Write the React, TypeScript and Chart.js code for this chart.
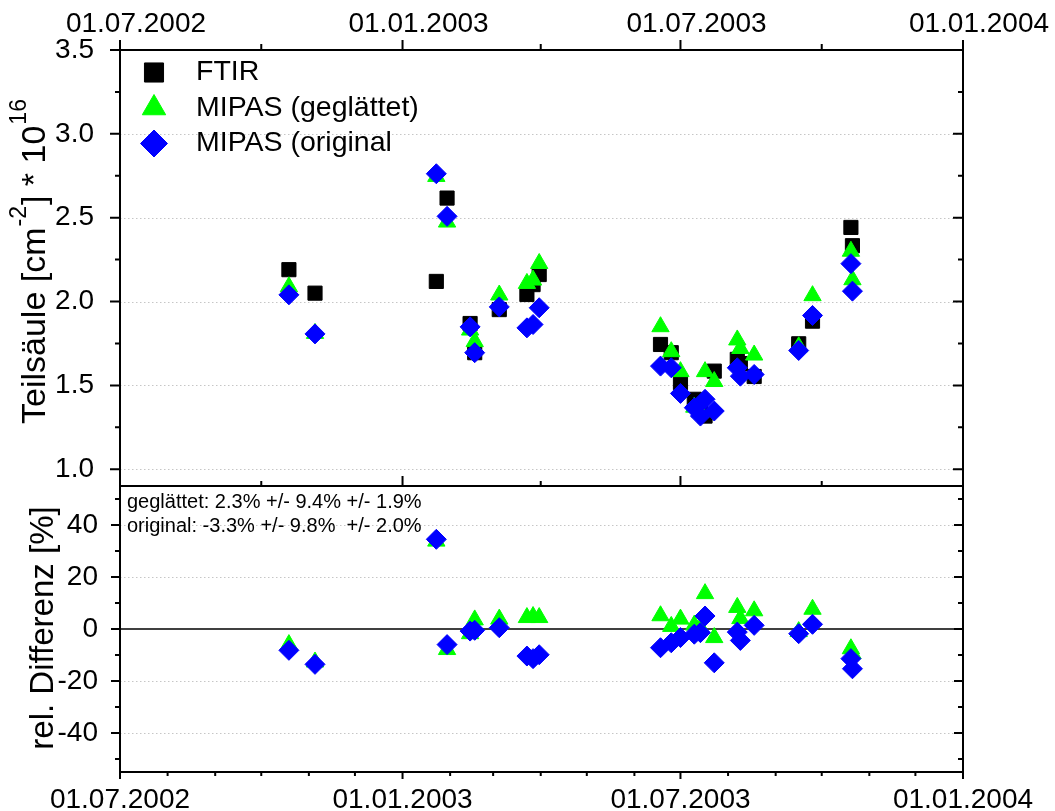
import React, { useEffect, useRef } from "react";
import { Chart, registerables } from "chart.js";

Chart.register(...registerables);

const FONT = "'Liberation Sans', Arial, Helvetica, sans-serif";

// ---- data ----
const measurementDates = [
  "2002-10-19", "2002-11-05", "2003-01-23", "2003-01-30", "2003-02-14", "2003-02-17",
  "2003-03-05", "2003-03-23", "2003-03-27", "2003-03-31", "2003-06-18", "2003-06-25",
  "2003-07-01", "2003-07-10", "2003-07-14", "2003-07-17", "2003-07-23", "2003-08-07",
  "2003-08-09", "2003-08-18", "2003-09-16", "2003-09-25", "2003-10-20", "2003-10-21",
];
const ftirColumn = [
  2.19, 2.05, 2.12, 2.617, 1.869, 1.695, 1.952, 2.042, 2.101, 2.161, 1.744, 1.695,
  1.516, 1.417, 1.35, 1.317, 1.585, 1.655, 1.63, 1.553, 1.748, 1.883, 2.442, 2.333,
];
const mipasSmoothedColumn = [
  2.088, 1.81, 2.746, 2.474, 1.83, 1.761, 2.039, 2.108, 2.128, 2.227, 1.85, 1.701,
  1.582, 1.37, 1.34, 1.582, 1.523, 1.771, 1.72, 1.681, 1.73, 2.035, 2.30, 2.13,
];
const mipasOriginalColumn = [
  2.04, 1.807, 2.762, 2.508, 1.849, 1.695, 1.968, 1.843, 1.863, 1.963, 1.615, 1.605,
  1.452, 1.367, 1.317, 1.417, 1.347, 1.605, 1.555, 1.565, 1.708, 1.917, 2.226, 2.062,
];
const diffSmoothedPct = [
  -6.0, -12.7, 33.8, -7.9, -1.8, 3.5, 3.8, 4.4, 4.8, 4.4, 5.1, 1.0,
  3.8, 1.5, 0.5, 13.6, -3.3, 8.3, 4.0, 7.0, -1.0, 7.6, -7.6, -9.5,
];
const diffOriginalPct = [
  -8.2, -13.6, 34.5, -6.0, -0.8, -0.5, 0.5, -10.4, -11.4, -9.9, -7.2, -5.3,
  -3.3, -2.0, -1.4, 5.0, -13.0, -1.2, -4.4, 1.4, -1.8, 1.8, -11.4, -15.3,
];

const seriesLabels = ["FTIR", "MIPAS (geglättet)", "MIPAS (original"];
const seriesColors = ["#000000", "#00ff00", "#0000ff"];
const seriesStyles = ["rect", "triangle", "rectRot"];

const xLabelDates = ["2002-07-01", "2003-01-01", "2003-07-01", "2004-01-01"];
const xTickLabels = ["01.07.2002", "01.01.2003", "01.07.2003", "01.01.2004"];
const quarterTickDates = [
  "2002-07-01", "2002-10-01", "2003-01-01", "2003-04-01", "2003-07-01", "2003-10-01", "2004-01-01",
];
const monthTickDates = [
  "2002-07-01", "2002-08-01", "2002-09-01", "2002-10-01", "2002-11-01", "2002-12-01",
  "2003-01-01", "2003-02-01", "2003-03-01", "2003-04-01", "2003-05-01", "2003-06-01",
  "2003-07-01", "2003-08-01", "2003-09-01", "2003-10-01", "2003-11-01", "2003-12-01", "2004-01-01",
];
const topYTicks = [1.0, 1.5, 2.0, 2.5, 3.0, 3.5];
const topYMinorTicks = [1.25, 1.75, 2.25, 2.75, 3.25];
const bottomYTicks = [-40, -20, 0, 20, 40];
const bottomYMinorTicks = [-50, -30, -10, 10, 30, 50];
const statsLines = ["geglättet: 2.3% +/- 9.4% +/- 1.9%", "original: -3.3% +/- 9.8%  +/- 2.0%"];
const bottomTitle = "rel. Differenz [%]";
const topTitleParts: [string, boolean][] = [
  ["Teilsäule [cm", false], ["-2", true], ["] * 10", false], ["16", true],
];

// ---- helpers ----
const dayNum = (s: string) => {
  const [y, m, d] = s.split("-").map(Number);
  return Date.UTC(y, m - 1, d) / 86400000;
};
const X_MIN = dayNum("2002-07-01");
const X_MAX = dayNum("2004-01-01");
const xLabelDays = xLabelDates.map(dayNum);
const isMajor = (s: string) => s.slice(5, 7) === "01" || s.slice(5, 7) === "07";
const labelForDay = (v: number) => {
  const i = xLabelDays.indexOf(Number(v));
  return i >= 0 ? xTickLabels[i] : "";
};
const toPoints = (vals: number[]) => measurementDates.map((d, i) => ({ x: dayNum(d), y: vals[i] }));

const GRID_COLOR = "#c6c6c6";

function drawMarker(ctx: CanvasRenderingContext2D, style: string, x: number, y: number, r: number, color: string) {
  ctx.beginPath();
  if (style === "rect") {
    const s = r * Math.SQRT1_2;
    ctx.rect(x - s, y - s, 2 * s, 2 * s);
  } else if (style === "triangle") {
    ctx.moveTo(x, y - r);
    ctx.lineTo(x + r * Math.sin((2 * Math.PI) / 3), y - r * Math.cos((2 * Math.PI) / 3));
    ctx.lineTo(x + r * Math.sin((4 * Math.PI) / 3), y - r * Math.cos((4 * Math.PI) / 3));
    ctx.closePath();
  } else {
    ctx.moveTo(x - r, y);
    ctx.lineTo(x, y - r);
    ctx.lineTo(x + r, y);
    ctx.lineTo(x, y + r);
    ctx.closePath();
  }
  ctx.fillStyle = color;
  ctx.fill();
  ctx.strokeStyle = color;
  ctx.lineWidth = 1;
  ctx.stroke();
}

const topDecor = {
  id: "topDecor",
  beforeDatasetsDraw(chart: any) {
    const { ctx, chartArea: a } = chart;
    const ys = chart.scales.y;
    ctx.save();
    ctx.strokeStyle = GRID_COLOR;
    ctx.lineWidth = 1;
    ctx.setLineDash([1.5, 2.5]);
    topYTicks.forEach((v) => {
      const py = Math.round(ys.getPixelForValue(v)) + 0.5;
      if (py <= a.top + 2) return;
      ctx.beginPath();
      ctx.moveTo(a.left, py);
      ctx.lineTo(a.right, py);
      ctx.stroke();
    });
    ctx.restore();
  },
  afterDatasetsDraw(chart: any) {
    const { ctx, chartArea: a } = chart;
    const xs = chart.scales.x;
    const ys = chart.scales.y;
    ctx.save();
    ctx.setLineDash([]);
    ctx.strokeStyle = "#000";
    ctx.lineWidth = 2;
    ctx.strokeRect(a.left, a.top, a.right - a.left, a.bottom - a.top);
    ctx.beginPath();
    quarterTickDates.forEach((d) => {
      const px = xs.getPixelForValue(dayNum(d));
      const m = isMajor(d);
      ctx.moveTo(px, a.top);
      ctx.lineTo(px, a.top - (m ? 10 : 6));
      ctx.moveTo(px, a.bottom);
      ctx.lineTo(px, a.bottom - (m ? 10 : 5));
    });
    [...topYTicks, ...topYMinorTicks].forEach((v) => {
      const py = ys.getPixelForValue(v);
      const len = topYTicks.includes(v) ? 10 : 5;
      ctx.moveTo(a.left, py);
      ctx.lineTo(a.left - len, py);
      ctx.moveTo(a.right, py);
      ctx.lineTo(a.right - len, py);
    });
    ctx.stroke();
    ctx.restore();
  },
  afterDraw(chart: any) {
    const { ctx } = chart;
    ctx.save();
    // legend
    const rowsY = [72.5, 108, 143.5];
    seriesLabels.forEach((lab, i) => {
      drawMarker(ctx, seriesStyles[i], 154, rowsY[i], 13.5, seriesColors[i]);
      ctx.fillStyle = "#000";
      ctx.font = `28.5px ${FONT}`;
      ctx.textAlign = "left";
      ctx.textBaseline = "middle";
      ctx.fillText(lab, 196, rowsY[i]);
    });
    // y title with superscripts
    ctx.translate(45, 424);
    ctx.rotate(-Math.PI / 2);
    ctx.textAlign = "left";
    ctx.textBaseline = "alphabetic";
    let x = 0;
    topTitleParts.forEach(([t, sup]) => {
      ctx.font = sup ? `23px ${FONT}` : `34px ${FONT}`;
      ctx.fillText(t, x + (sup ? 1 : 0), sup ? -19 : 0);
      x += ctx.measureText(t).width + (sup ? 2 : 0);
    });
    ctx.restore();
  },
};

const bottomDecor = {
  id: "bottomDecor",
  beforeDatasetsDraw(chart: any) {
    const { ctx, chartArea: a } = chart;
    const ys = chart.scales.y;
    ctx.save();
    ctx.strokeStyle = GRID_COLOR;
    ctx.lineWidth = 1;
    ctx.setLineDash([1.5, 2.5]);
    bottomYTicks.forEach((v) => {
      if (v === 0) return;
      const py = Math.round(ys.getPixelForValue(v)) + 0.5;
      ctx.beginPath();
      ctx.moveTo(a.left, py);
      ctx.lineTo(a.right, py);
      ctx.stroke();
    });
    ctx.setLineDash([]);
    ctx.strokeStyle = "#000";
    ctx.lineWidth = 1.5;
    const p0 = ys.getPixelForValue(0);
    ctx.beginPath();
    ctx.moveTo(a.left, p0);
    ctx.lineTo(a.right, p0);
    ctx.stroke();
    ctx.restore();
  },
  afterDatasetsDraw(chart: any) {
    const { ctx, chartArea: a } = chart;
    const xs = chart.scales.x;
    const ys = chart.scales.y;
    ctx.save();
    ctx.setLineDash([]);
    ctx.strokeStyle = "#000";
    ctx.lineWidth = 2;
    ctx.strokeRect(a.left, a.top, a.right - a.left, a.bottom - a.top);
    ctx.beginPath();
    monthTickDates.forEach((d) => {
      const px = xs.getPixelForValue(dayNum(d));
      ctx.moveTo(px, a.bottom);
      ctx.lineTo(px, a.bottom + (isMajor(d) ? 7 : 4));
    });
    [...bottomYTicks, ...bottomYMinorTicks].forEach((v) => {
      const py = ys.getPixelForValue(v);
      const len = bottomYTicks.includes(v) ? 9 : 5;
      ctx.moveTo(a.left, py);
      ctx.lineTo(a.left - len, py);
      ctx.moveTo(a.right, py);
      ctx.lineTo(a.right - len, py);
    });
    ctx.stroke();
    ctx.restore();
  },
  afterDraw(chart: any) {
    const { ctx } = chart;
    ctx.save();
    ctx.fillStyle = "#000";
    ctx.font = `20px ${FONT}`;
    ctx.textAlign = "left";
    ctx.textBaseline = "alphabetic";
    ctx.fillText(statsLines[0], 127, 508);
    ctx.fillText(statsLines[1], 127, 531.5);
    ctx.translate(52.5, 628);
    ctx.rotate(-Math.PI / 2);
    ctx.textAlign = "center";
    ctx.font = `33px ${FONT}`;
    ctx.fillText(bottomTitle, 0, 0);
    ctx.restore();
  },
};

const tickFont = { family: FONT, size: 28 };

function makeDataset(label: string, vals: number[], idx: number, order: number) {
  return {
    label,
    data: toPoints(vals),
    pointStyle: seriesStyles[idx],
    pointRadius: 10,
    pointHoverRadius: 10,
    pointBackgroundColor: seriesColors[idx],
    pointBorderColor: seriesColors[idx],
    pointBorderWidth: 1,
    backgroundColor: seriesColors[idx],
    borderColor: seriesColors[idx],
    showLine: false,
    order,
  };
}

export default function App() {
  const topRef = useRef<HTMLCanvasElement>(null);
  const botRef = useRef<HTMLCanvasElement>(null);

  useEffect(() => {
    const top = new Chart(topRef.current as HTMLCanvasElement, {
      type: "scatter",
      data: {
        datasets: [
          makeDataset(seriesLabels[0], ftirColumn, 0, 3),
          makeDataset(seriesLabels[1], mipasSmoothedColumn, 1, 2),
          makeDataset(seriesLabels[2], mipasOriginalColumn, 2, 1),
        ] as any,
      },
      options: {
        responsive: false,
        animation: false,
        events: [],
        layout: { padding: { left: 0, right: 92, top: 0, bottom: 325 } },
        plugins: { legend: { display: false }, tooltip: { enabled: false } },
        scales: {
          x: {
            type: "linear",
            position: "top",
            min: X_MIN,
            max: X_MAX,
            afterFit: (s: any) => { s.height = 50; },
            afterBuildTicks: (s: any) => { s.ticks = xLabelDays.map((v) => ({ value: v })); },
            ticks: {
              autoSkip: false, maxRotation: 0, minRotation: 0, padding: 1, labelOffset: 16,
              color: "#000", font: tickFont, callback: (v: any) => labelForDay(v),
            },
            grid: { display: false },
            border: { display: false },
          },
          y: {
            type: "linear",
            position: "left",
            min: 0.9,
            max: 3.5,
            afterFit: (s: any) => { s.width = 120; },
            afterBuildTicks: (s: any) => { s.ticks = topYTicks.map((v) => ({ value: v })); },
            ticks: { padding: 18, color: "#000", font: tickFont, callback: (v: any) => Number(v).toFixed(1) },
            grid: { display: false },
            border: { display: false },
          },
        },
      } as any,
      plugins: [topDecor],
    });

    const bot = new Chart(botRef.current as HTMLCanvasElement, {
      type: "scatter",
      data: {
        datasets: [
          makeDataset(seriesLabels[1], diffSmoothedPct, 1, 2),
          makeDataset(seriesLabels[2], diffOriginalPct, 2, 1),
        ] as any,
      },
      options: {
        responsive: false,
        animation: false,
        events: [],
        layout: { padding: { left: 0, right: 92, top: 486, bottom: 0 } },
        plugins: { legend: { display: false }, tooltip: { enabled: false } },
        scales: {
          x: {
            type: "linear",
            position: "bottom",
            min: X_MIN,
            max: X_MAX,
            afterFit: (s: any) => { s.height = 39; },
            afterBuildTicks: (s: any) => { s.ticks = xLabelDays.map((v) => ({ value: v })); },
            ticks: {
              autoSkip: false, maxRotation: 0, minRotation: 0, padding: 3,
              color: "#000", font: tickFont, callback: (v: any) => labelForDay(v),
            },
            grid: { display: false },
            border: { display: false },
          },
          y: {
            type: "linear",
            position: "left",
            min: -55,
            max: 55,
            afterFit: (s: any) => { s.width = 120; },
            afterBuildTicks: (s: any) => { s.ticks = bottomYTicks.map((v) => ({ value: v })); },
            ticks: { padding: 14, color: "#000", font: tickFont, callback: (v: any) => String(v) },
            grid: { display: false },
            border: { display: false },
          },
        },
      } as any,
      plugins: [bottomDecor],
    });

    return () => {
      top.destroy();
      bot.destroy();
    };
  }, []);

  return (
    <div style={{ position: "absolute", left: 0, top: 0, width: 1055, height: 811, background: "#ffffff" }}>
      <canvas ref={topRef} width={1055} height={811} style={{ position: "absolute", left: 0, top: 0 }} />
      <canvas ref={botRef} width={1055} height={811} style={{ position: "absolute", left: 0, top: 0 }} />
    </div>
  );
}
